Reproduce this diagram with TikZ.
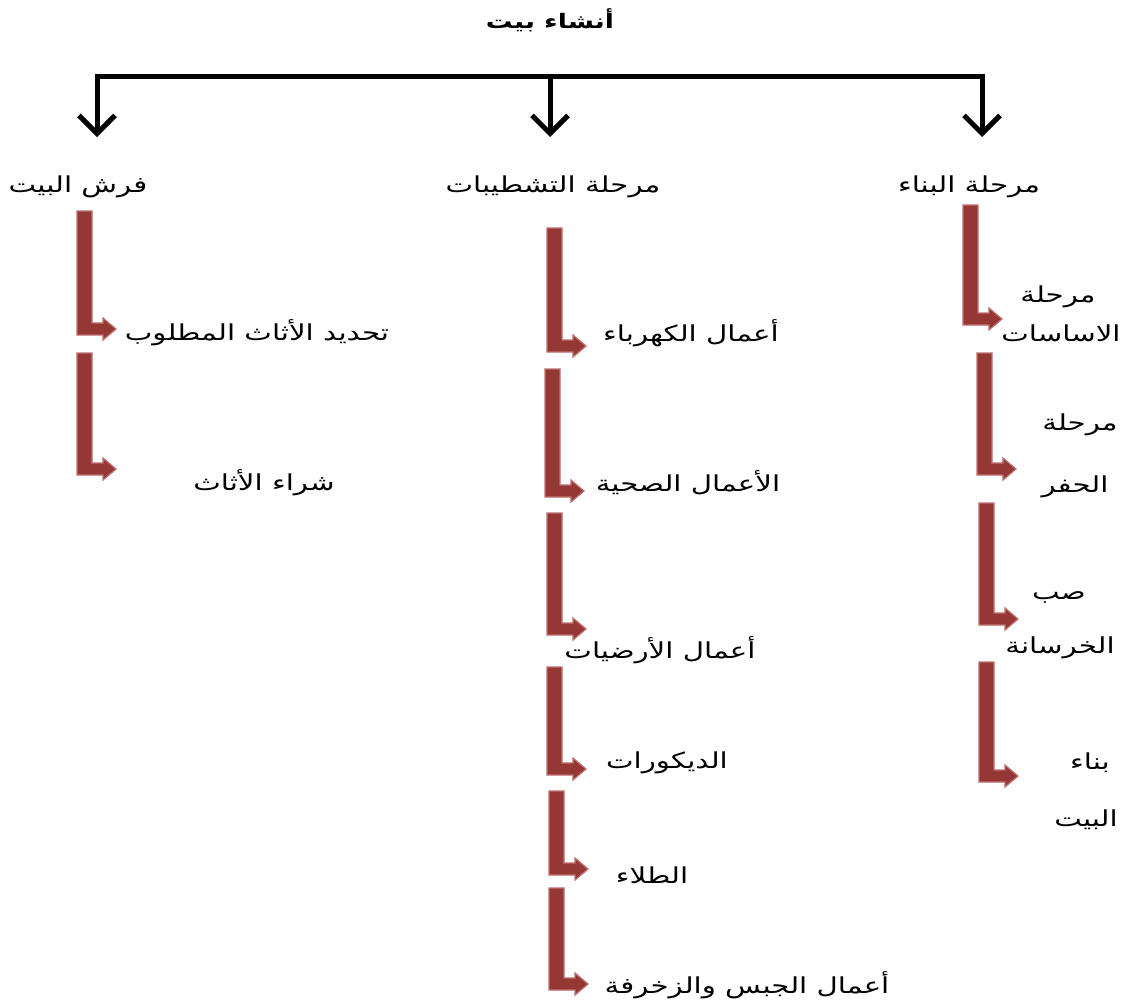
\documentclass[tikz,border=0pt]{standalone}
\usepackage{fontspec}
\TeXXeTstate=1
\newfontfamily\arabicfont[Script=Arabic, FakeStretch=1.33]{DejaVu Sans}
\usetikzlibrary{arrows.meta}
\definecolor{arrowred}{RGB}{149,55,53}
\definecolor{arrowedge}{RGB}{192,112,110}
\newcommand\BentArr[3]{%
  \filldraw[bentstyle]
  (#1,#2) -- (#1+15,#2) -- (#1+15,#3-12) -- (#1+26,#3-12) -- (#1+26,#3-17)
  -- (#1+39,#3-6) -- (#1+26,#3+5) -- (#1+26,#3) -- (#1,#3) -- cycle;}
\tikzset{
  bentstyle/.style={fill=arrowred, draw=arrowedge, line width=1.2pt, line join=miter},
  lbl/.style={font=\arabicfont\fontsize{22}{26}\selectfont, inner sep=0pt, text=black},
  titlelbl/.style={font=\arabicfont\bfseries\fontsize{20}{24}\selectfont, inner sep=0pt},
  topline/.style={line width=5pt, line cap=rect},
  toparrow/.style={line width=5pt, -{Straight Barb[length=18pt,width=36pt,line width=5pt]}},
}
\begin{document}
\begin{tikzpicture}[x=1pt,y=-1pt]
\useasboundingbox (0,0) rectangle (1127,1005);
\fill[white] (0,0) rectangle (1127,1005);
% title
\node[titlelbl] (root) at (550,20) {\beginR أنشاء بيت\endR};
% top connectors
\coordinate (hl) at (97,76);
\coordinate (hm) at (550,76);
\coordinate (hr) at (982,76);
\coordinate (tl) at (97,137);
\coordinate (tm) at (550,137);
\coordinate (tr) at (982,137);
\draw[topline] (hl) -- (hr);
\draw[toparrow] (hl) -- (tl);
\draw[toparrow] (hm) -- (tm);
\draw[toparrow] (hr) -- (tr);
% level 2
\node[lbl] (c1) at (78,187) {\beginR فرش البيت\endR};
\node[lbl] (c2) at (553,187) {\beginR مرحلة التشطيبات\endR};
\node[lbl] (c3) at (969,187) {\beginR مرحلة البناء\endR};
% left column
\BentArr{77}{211}{335}
\BentArr{77}{353}{475}
\node[lbl] (l1) at (257,333) {\beginR تحديد الأثاث المطلوب\endR};
\node[lbl] (l2) at (264,483) {\beginR شراء الأثاث\endR};
% middle column
\BentArr{547}{228}{352}
\BentArr{545}{369}{497}
\BentArr{547}{513}{635}
\BentArr{547}{667}{775}
\BentArr{549}{791}{875}
\BentArr{549}{888}{990}
\node[lbl] (m1) at (691,333) {\beginR أعمال الكهرباء\endR};
\node[lbl] (m2) at (688,483) {\beginR الأعمال الصحية\endR};
\node[lbl] (m3) at (660,650) {\beginR أعمال الأرضيات\endR};
\node[lbl] (m4) at (667,763) {\beginR الديكورات\endR};
\node[lbl] (m5) at (652,875) {\beginR الطلاء\endR};
\node[lbl] (m6) at (747,985) {\beginR أعمال الجبس والزخرفة\endR};
% right column
\BentArr{963}{205}{325}
\BentArr{977}{353}{475}
\BentArr{979}{503}{625}
\BentArr{979}{662}{782}
\node[lbl] (r1a) at (1058,297) {\beginR مرحلة\endR};
\node[lbl] (r1b) at (1061,333) {\beginR الاساسات\endR};
\node[lbl] (r2a) at (1080,425) {\beginR مرحلة\endR};
\node[lbl] (r2b) at (1075,487) {\beginR الحفر\endR};
\node[lbl] (r3a) at (1059,597) {\beginR صب\endR};
\node[lbl] (r3b) at (1060,648) {\beginR الخرسانة\endR};
\node[lbl] (r4a) at (1090,763) {\beginR بناء\endR};
\node[lbl] (r4b) at (1086,820) {\beginR البيت\endR};
\end{tikzpicture}
\end{document}
